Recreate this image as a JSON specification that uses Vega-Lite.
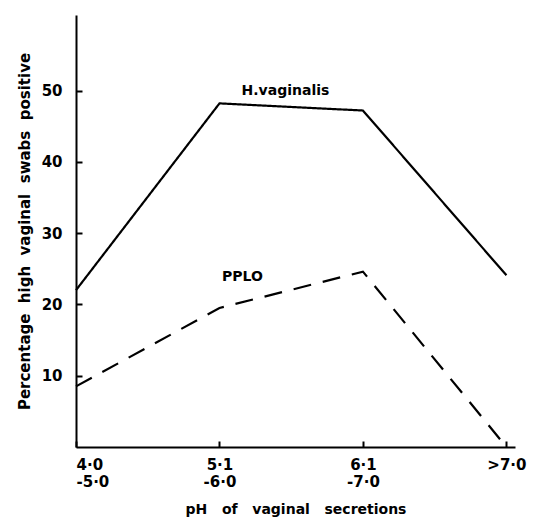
{
  "$schema": "https://vega.github.io/schema/vega-lite/v6.json",
  "width": 439,
  "height": 432,
  "autosize": "none",
  "padding": {"left": 76, "top": 15, "right": 30, "bottom": 70},
  "background": "white",
  "config": {
    "view": {"stroke": null},
    "font": "DejaVu Sans",
    "axis": {"grid": false, "domainColor": "black", "domainWidth": 2, "tickColor": "black", "tickWidth": 2, "labelColor": "black", "titleColor": "black", "labelFont": "DejaVu Sans", "titleFont": "DejaVu Sans", "labelFontWeight": "bold", "titleFontWeight": "bold"}
  },
  "datasets": {
    "lines": [
      {"ph": 0, "series": "H.vaginalis", "pct": 22},
      {"ph": 1, "series": "H.vaginalis", "pct": 48.2},
      {"ph": 2, "series": "H.vaginalis", "pct": 47.2},
      {"ph": 3, "series": "H.vaginalis", "pct": 24.1},
      {"ph": 0, "series": "PPLO", "pct": 8.5},
      {"ph": 1, "series": "PPLO", "pct": 19.5},
      {"ph": 2, "series": "PPLO", "pct": 24.6},
      {"ph": 3, "series": "PPLO", "pct": 0}
    ],
    "labels": [
      {"ph": 1.46, "pct": 49.9, "series": "H.vaginalis"},
      {"ph": 1.16, "pct": 23.9, "series": "PPLO"}
    ]
  },
  "layer": [
    {
      "data": {"name": "lines"},
      "mark": {"type": "line", "color": "black", "strokeWidth": 2.2},
      "encoding": {
        "x": {"field": "ph", "type": "quantitative", "scale": {"domain": [0, 3.06], "nice": false, "zero": false},
          "axis": {"values": [0, 1, 2, 3], "tickSize": -6, "labelPadding": 16, "labelFontSize": 15,
            "labelExpr": "datum.value == 0 ? ['4·0', '-5·0'] : datum.value == 1 ? ['5·1', '-6·0'] : datum.value == 2 ? ['6·1', '-7·0'] : '>7·0'",
            "title": "pH\u00a0\u00a0\u00a0of\u00a0\u00a0\u00a0vaginal\u00a0\u00a0\u00a0secretions", "titleFontSize": 14, "titlePadding": 13}},
        "y": {"field": "pct", "type": "quantitative", "scale": {"domain": [0, 60.6], "nice": false},
          "axis": {"values": [10, 20, 30, 40, 50], "tickSize": -6, "labelPadding": 20, "labelFontSize": 15,
            "title": "Percentage\u00a0\u00a0high\u00a0\u00a0vaginal\u00a0\u00a0swabs\u00a0\u00a0positive", "titleFontSize": 15, "titlePadding": 9}},
        "detail": {"field": "series"},
        "strokeDash": {"field": "series", "type": "nominal", "scale": {"domain": ["H.vaginalis", "PPLO"], "range": [[1, 0], [18, 12]]}, "legend": null}
      }
    },
    {
      "data": {"name": "labels"},
      "mark": {"type": "text", "color": "black", "fontSize": 14, "fontWeight": "bold", "font": "DejaVu Sans"},
      "encoding": {
        "x": {"field": "ph", "type": "quantitative"},
        "y": {"field": "pct", "type": "quantitative"},
        "text": {"field": "series"}
      }
    }
  ]
}
